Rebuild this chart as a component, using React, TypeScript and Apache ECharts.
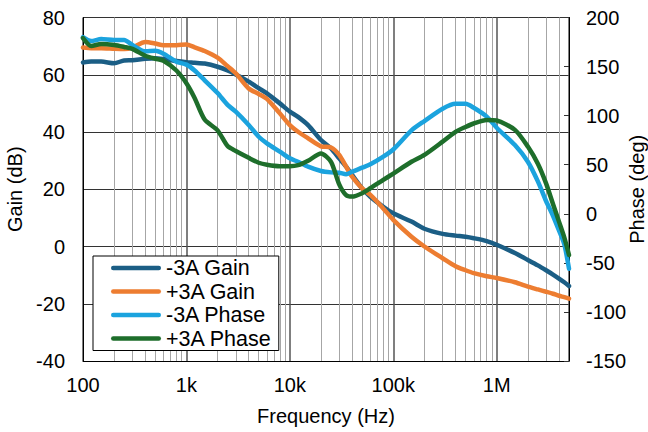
import React, { useEffect, useRef } from "react";
import * as echarts from "echarts";

const seriesNames = ["-3A Gain", "+3A Gain", "-3A Phase", "+3A Phase"];
const seriesColors = ["#1b5e85", "#ed7d31", "#1ba3de", "#1e6e2b"];

const freq = [
  100, 120, 150, 200, 250, 300, 400, 500, 600, 800,
  1e3, 1.2e3, 1.5e3, 2e3, 2.5e3, 3e3, 4e3, 5e3, 6e3, 8e3,
  1e4, 1.2e4, 1.5e4, 2e4, 2.5e4, 3e4, 3.5e4, 4e4, 5e4, 6e4, 8e4,
  1e5, 1.5e5, 2e5, 3e5, 4e5, 5e5, 6e5, 8e5,
  1e6, 1.5e6, 2e6, 2.5e6, 3e6, 3.5e6, 4e6, 4.5e6, 5e6,
];

const gainMinus3A = [
  64.3, 64.6, 64.6, 64.0, 65.0, 65.1, 65.6, 65.8, 65.5, 64.8,
  64.4, 64.2, 63.9, 62.8, 61.5, 60.1, 57.6, 55.3, 53.5, 50.0,
  47.1, 45.3, 42.4, 37.2, 34.3, 30.8, 27.9, 25.0, 20.3, 17.4, 13.9,
  11.6, 8.7, 6.2, 4.4, 3.8, 3.4, 2.9, 1.9,
  0.6, -2.3, -4.7, -6.6, -8.3, -9.8, -11.2, -12.5, -13.8,
];

const gainPlus3A = [
  69.5, 69.3, 69.3, 69.1, 69.0, 69.5, 71.4, 70.9, 70.3, 70.3,
  70.6, 69.6, 68.3, 66.0, 63.0, 60.5, 55.2, 53.3, 51.6, 46.5,
  42.4, 40.1, 37.8, 35.0, 34.6, 32.0, 27.9, 24.4, 20.3, 18.0, 13.3,
  9.3, 3.4, 0.0, -4.1, -6.9, -8.3, -9.3, -10.4,
  -11.0, -12.5, -14.0, -15.0, -15.8, -16.5, -17.2, -17.7, -18.2,
];

const phaseMinus3A = [
  180, 176, 178, 177, 177, 172, 165.5, 166, 163, 155,
  152, 146, 136, 123, 111, 104, 90.5, 78.5, 71.8, 63.3,
  56.5, 53, 48, 43.6, 42.2, 41.9, 40.2, 42.9, 47, 50.4, 58.2,
  65.5, 85, 94.5, 107, 112, 112, 108, 99,
  87.7, 70, 53, 33, 13, -2, -17, -31, -56,
];

const phasePlus3A = [
  179, 171, 173, 172, 170, 168, 161, 158, 156, 146,
  133, 118, 96, 85, 69, 64, 57, 52, 50, 48.5,
  48.5, 49.5, 54, 61.5, 53, 30, 19, 17.5, 21, 26, 34.5,
  41, 53, 60, 73.5, 83.5, 88.5, 92, 95.5,
  95, 85.5, 68.5, 51, 31, 10, -8, -24, -42,
];

const decadeLabels: Record<string, string> = {
  "100": "100",
  "1000": "1k",
  "10000": "10k",
  "100000": "100k",
  "1000000": "1M",
};

const FONT = "'Liberation Sans', Arial, sans-serif";
const CAPSULE = "path://M2.25,0 L47.75,0 A2.25,2.25 0 0 1 47.75,4.5 L2.25,4.5 A2.25,2.25 0 0 1 2.25,0 Z";

export default function App() {
  const ref = useRef<HTMLDivElement>(null);

  useEffect(() => {
    if (!ref.current) return;
    const chart = echarts.init(ref.current, undefined, { renderer: "svg" });

    const minorLines: number[] = [];
    for (let d = 100; d <= 1e6; d *= 10) {
      for (let k = 2; k <= 9; k++) {
        const v = k * d;
        if (v < 5e6) minorLines.push(v);
      }
    }

    const valueSets = [gainMinus3A, gainPlus3A, phaseMinus3A, phasePlus3A];

    const lineSeries = seriesNames.map((name, i) => ({
      name,
      type: "line",
      yAxisIndex: i < 2 ? 0 : 1,
      data: freq.map((f, j) => [f, valueSets[i][j]]),
      showSymbol: false,
      symbol: "none",
      smooth: 0.25,
      z: 3,
      lineStyle: { color: seriesColors[i], width: 4.5, cap: "round", join: "round" },
      itemStyle: { color: seriesColors[i] },
    }));

    chart.setOption({
      animation: false,
      grid: {
        left: 83,
        right: 79,
        top: 17.5,
        bottom: 71,
        containLabel: false,
        outerBoundsMode: "none",
      },
      legend: {
        data: seriesNames.map((n) => ({ name: n, icon: CAPSULE })),
        orient: "vertical",
        left: 93,
        top: 256,
        z: 10,
        padding: [1, 7, 1, 18],
        itemGap: 1.5,
        itemWidth: 50,
        itemHeight: 4.5,
        itemStyle: { borderWidth: 0 },
        borderColor: "#000",
        borderWidth: 1,
        borderRadius: 0,
        backgroundColor: "#fff",
        textStyle: { fontSize: 21.5, fontFamily: FONT, color: "#000" },
      },
      xAxis: {
        type: "log",
        logBase: 10,
        min: 100,
        max: 5e6,
        name: "Frequency (Hz)",
        nameLocation: "middle",
        nameGap: 45,
        nameMoveOverlap: false,
        nameTextStyle: { fontSize: 20, fontFamily: FONT, color: "#000" },
        axisLine: { show: true, onZero: false, lineStyle: { color: "#000", width: 1 } },
        axisTick: { show: false },
        axisLabel: {
          fontSize: 20,
          fontFamily: FONT,
          color: "#000",
          margin: 14,
          formatter: (v: number) => decadeLabels[String(Math.round(v))] ?? "",
        },
        splitLine: { show: true, lineStyle: { color: "#555", width: 1.5 } },
      },
      yAxis: [
        {
          type: "value",
          min: -40,
          max: 80,
          interval: 20,
          name: "Gain (dB)",
          nameLocation: "middle",
          nameGap: 58,
          nameRotate: 90,
          nameMoveOverlap: false,
          nameTextStyle: { fontSize: 20, fontFamily: FONT, color: "#000" },
          axisLine: { show: true, lineStyle: { color: "#000", width: 1 } },
          axisTick: { show: false },
          axisLabel: { fontSize: 20, fontFamily: FONT, color: "#000", margin: 18 },
          splitLine: { show: true, lineStyle: { color: "#333", width: 1 } },
        },
        {
          type: "value",
          position: "right",
          min: -150,
          max: 200,
          interval: 50,
          name: "Phase (deg)",
          nameLocation: "middle",
          nameGap: 58,
          nameRotate: 90,
          nameMoveOverlap: false,
          nameTextStyle: { fontSize: 20, fontFamily: FONT, color: "#000" },
          axisLine: { show: true, lineStyle: { color: "#000", width: 1 } },
          axisTick: { show: true, inside: true, length: 5, lineStyle: { color: "#333" } },
          axisLabel: { fontSize: 20, fontFamily: FONT, color: "#000", margin: 17 },
          splitLine: { show: false },
        },
      ],
      series: [
        {
          type: "line",
          data: [],
          silent: true,
          z: 1,
          markLine: {
            z: 1,
            silent: true,
            symbol: ["none", "none"],
            label: { show: false },
            lineStyle: { color: "#a6a6a6", width: 1, type: "solid" },
            emphasis: { disabled: true },
            data: minorLines.map((v) => ({ xAxis: v })),
          },
        },
        ...lineSeries,
      ],
    });

    return () => chart.dispose();
  }, []);

  return (
    <div
      ref={ref}
      style={{ position: "fixed", left: 0, top: 0, width: 648, height: 432, background: "#fff" }}
    />
  );
}
